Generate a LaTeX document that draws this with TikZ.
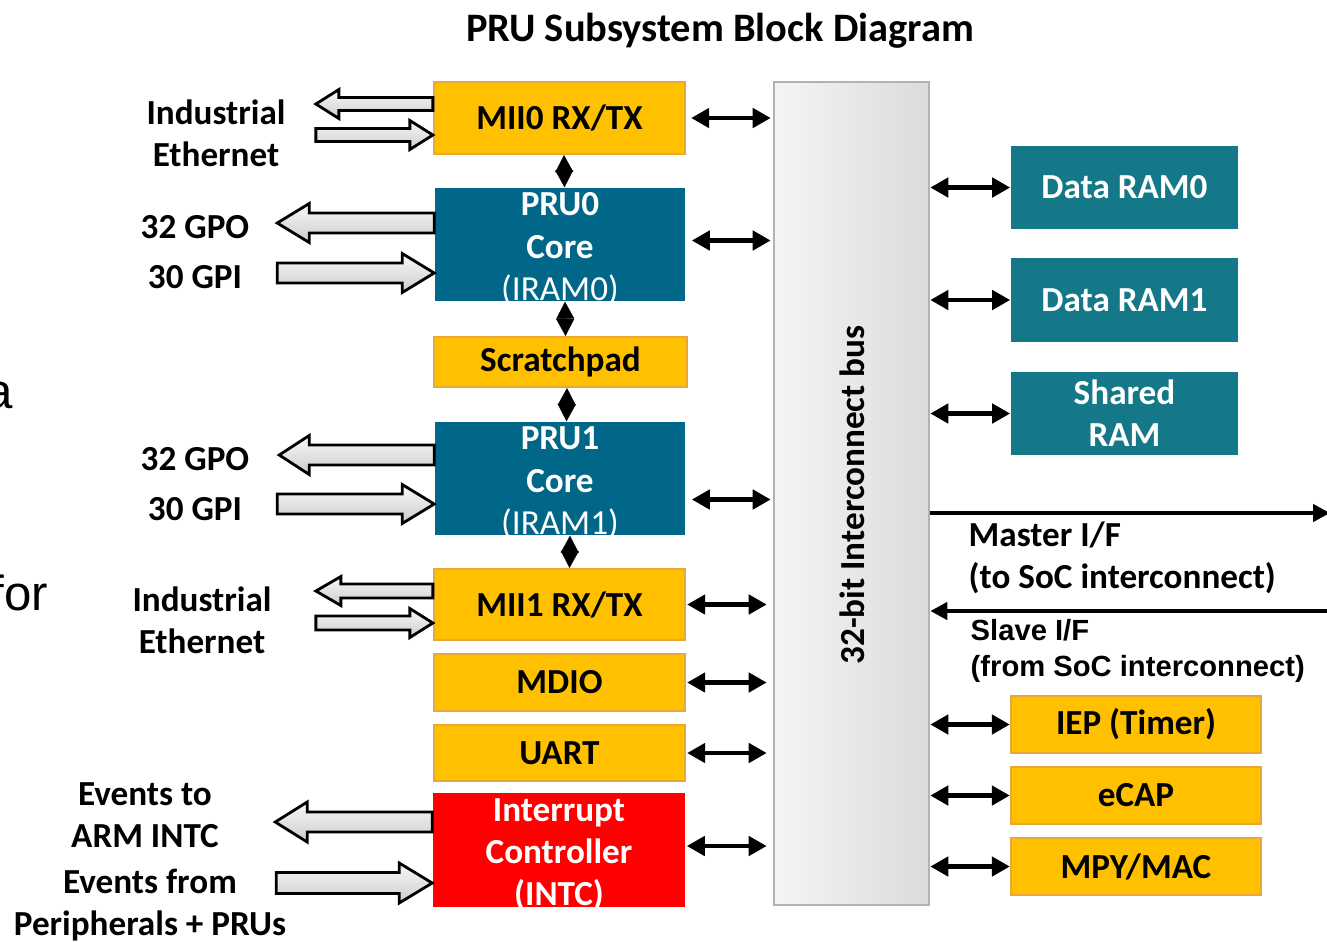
\documentclass[tikz,border=0pt]{standalone}
\usepackage{fontspec}
\setmainfont{Carlito}
\newfontfamily\arialfont{Liberation Sans}
\usetikzlibrary{arrows.meta,calc}

\definecolor{miiorange}{RGB}{255,192,0}
\definecolor{miiborder}{RGB}{232,168,56}
\definecolor{prublue}{RGB}{0,103,137}
\definecolor{ramteal}{RGB}{20,120,137}
\definecolor{intcred}{RGB}{255,0,0}

% hollow block arrows: #1 point at the box, #2 length, #3 half shaft, #4 half head, #5 head length
\newcommand{\outblock}[5]{%
  \draw[fatarrow] (#1) ++(0,-#3) -- ++({-(#2-#5)},0) -- ++(0,{#3-#4}) -- ++({-#5},#4)
    -- ++(#5,#4) -- ++(0,{#3-#4}) -- ++({#2-#5},0) -- cycle;}
\newcommand{\inblock}[5]{%
  \draw[fatarrow] (#1) -- ++({-#5},{-#4}) -- ++(0,{#4-#3}) -- ++({-(#2-#5)},0)
    -- ++(0,{2*#3}) -- ++({#2-#5},0) -- ++(0,{#4-#3}) -- cycle;}

\tikzset{
  periph/.style={fill=miiorange, draw=miiborder, line width=0.6pt, inner sep=0pt, minimum width=2.51cm, minimum height=0.57cm},
  corebox/.style={fill=prublue, inner sep=0pt, minimum width=2.5cm, minimum height=1.13cm},
  ramblock/.style={fill=ramteal, text=white, inner sep=0pt, minimum width=2.27cm, minimum height=0.83cm},
  boxtext/.style={text=white, align=center, yshift=-1.3pt},
  busarrow/.style={{Triangle[length=0.18cm,width=0.19cm]}-{Triangle[length=0.18cm,width=0.19cm]}, line width=1.4pt},
  ifarrow/.style={-{Triangle[length=0.17cm,width=0.17cm]}, line width=1.4pt},
  diamondlink/.style={{Triangle[length=0.17cm,width=0.18cm]}-{Triangle[length=0.17cm,width=0.18cm]}, line width=0.1pt},
  fatarrow/.style={draw=black, line width=0.8pt, top color=gray!5, bottom color=gray!40},
  sidelabel/.style={align=center},
  cuttext/.style={anchor=base east, inner sep=0pt, font=\arialfont\fontsize{14pt}{16pt}\selectfont}
}

\begin{document}
\begin{tikzpicture}[x=0.01cm, y=-0.01cm, font=\fontsize{10pt}{12pt}\selectfont\bfseries]
\useasboundingbox (0,0) rectangle (1327,941);

\node (title) at (720,31) {\fontsize{11.5pt}{14pt}\selectfont PRU Subsystem Block Diagram};

% slide text cut off at the left edge
\node[cuttext] (cuta) at (14,408) {a};
\node[cuttext] (cutfor) at (49,610) {for};

% PRU column
\node[periph, minimum height=0.72cm] (mii0) at (559.5,118) {MII0 RX/TX};
\node[corebox, label={[boxtext]center:{PRU0\\Core\\{\mdseries (IRAM0)}}}] (pru0) at (560,244.5) {};
\node[periph, minimum width=2.53cm, minimum height=0.5cm] (scratch) at (560.5,362) {Scratchpad};
\node[corebox, label={[boxtext]center:{PRU1\\Core\\{\mdseries (IRAM1)}}}] (pru1) at (560,478.5) {};
\node[periph, minimum height=0.71cm] (mii1) at (559.5,604.5) {MII1 RX/TX};
\node[periph] (mdio) at (559.5,682.5) {MDIO};
\node[periph, minimum height=0.56cm] (uart) at (559.5,753) {UART};
\node[fill=intcred, inner sep=0pt, minimum width=2.52cm, minimum height=1.14cm,
      label={[boxtext]center:{Interrupt\\Controller\\(INTC)}}] (intc) at (559,850) {};

\draw[diamondlink] ([xshift=0.045cm]mii0.south) -- ([xshift=0.045cm]pru0.north);
\draw[diamondlink] ([xshift=0.05cm]pru0.south) -- ([xshift=0.05cm]scratch.north);
\draw[diamondlink] ([xshift=0.065cm]scratch.south) -- ([xshift=0.065cm]pru1.north);
\draw[diamondlink] ([xshift=0.1cm]pru1.south) -- ([xshift=0.1cm]mii1.north);

% bus
\node[draw=gray!60, line width=0.7pt, left color=gray!8, right color=gray!28, inner sep=0pt,
      minimum width=1.55cm, minimum height=8.23cm] (bus) at (851.5,493.5) {};
\node[rotate=90] (buslabel) at (852,495) {32-bit Interconnect bus};

% right column
\node[ramblock] (ram0) at (1124.5,187.5) {Data RAM0};
\node[ramblock] (ram1) at (1124.5,300) {Data RAM1};
\node[ramblock, align=center] (sram) at (1124.5,413.5) {Shared\\RAM};
\node[periph, minimum width=2.5cm] (iep) at (1136,724.5) {IEP (Timer)};
\node[periph, minimum width=2.5cm] (ecap) at (1136,795.5) {eCAP};
\node[periph, minimum width=2.5cm] (mpy) at (1136,866.5) {MPY/MAC};

% links to the bus
\coordinate (pru1bus) at ($(pru1.east)+(0,21)$);
\draw[busarrow, shorten <=0.05cm, shorten >=0.02cm] (mii0.east) -- (bus.west |- mii0.east);
\draw[busarrow, shorten <=0.06cm, shorten >=0.02cm] ($(pru0.east)+(0,-4)$) -- (bus.west |- {$(pru0.east)+(0,-4)$});
\draw[busarrow, shorten <=0.06cm, shorten >=0.02cm] (pru1bus) -- (bus.west |- pru1bus);
\foreach \blk in {mii1,mdio,uart}
  \draw[busarrow, shorten <=0.01cm, shorten >=0.06cm] (\blk.east) -- (bus.west |- \blk.east);
\draw[busarrow, shorten <=0.01cm, shorten >=0.06cm] ($(intc.east)+(0,-4)$) -- (bus.west |- {$(intc.east)+(0,-4)$});
\foreach \blk in {ram0,ram1,sram,iep,ecap,mpy}
  \draw[busarrow] (bus.east |- \blk.west) -- (\blk.west);

% SoC interfaces
\coordinate (socout) at (1330,513);
\coordinate (socin) at (1330,611);
\draw[ifarrow] (bus.east |- socout) -- (socout);
\draw[ifarrow] (socin) -- (bus.east |- socin);
\node[anchor=west, align=left, inner sep=0pt] (masterlbl) at (968,558) {Master I/F\\(to SoC interconnect)};
\node[anchor=west, align=left, inner sep=0pt, font=\arialfont\bfseries\fontsize{8.3pt}{10pt}\selectfont] (slavelbl) at (970,651) {Slave I/F\\(from SoC interconnect)};

% external pins
\outblock{$(mii0.west)+(0,-14)$}{117}{6.5}{14.5}{23}
\inblock{$(mii0.west)+(0,17)$}{117}{6.5}{14.5}{23}
\outblock{$(pru0.west)+(0,-21.5)$}{157}{10}{19.5}{32}
\inblock{$(pru0.west)+(0,28.5)$}{157}{10}{19.5}{32}
\outblock{$(pru1.west)+(0,-23.5)$}{155}{10}{19.5}{30}
\inblock{$(pru1.west)+(0,25.5)$}{157}{10}{19.5}{32}
\outblock{$(mii1.west)+(0,-13.5)$}{117}{7}{14.5}{25}
\inblock{$(mii1.west)+(0,18.5)$}{117}{7}{14.5}{23}
\outblock{$(intc.west)+(0,-28)$}{157}{10}{20}{32}
\inblock{$(intc.west)+(0,33)$}{156}{10.5}{20}{33}

\node[sidelabel] (ie0) at (216,133) {Industrial\\Ethernet};
\node (gpo0) at (195,227) {32 GPO};
\node (gpi0) at (195,277) {30 GPI};
\node (gpo1) at (195,459) {32 GPO};
\node (gpi1) at (195,509) {30 GPI};
\node[sidelabel] (ie1) at (202,620.5) {Industrial\\Ethernet};
\node[sidelabel] (evout) at (145,815) {Events to\\ARM INTC};
\node[sidelabel] (evin) at (150,905) {Events from\\Peripherals + PRUs};
\end{tikzpicture}
\end{document}
